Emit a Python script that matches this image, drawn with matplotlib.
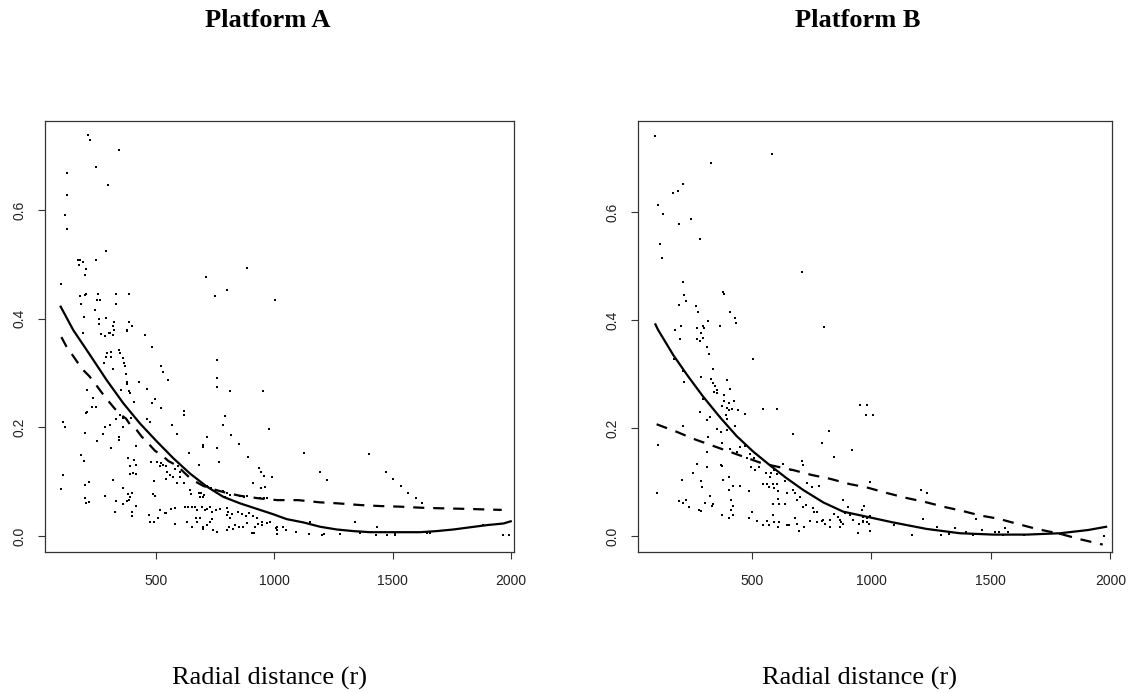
import numpy as np
import matplotlib
matplotlib.use("Agg")
import matplotlib.pyplot as plt

# Platform A: scatter points (r, value)
a_x = [214, 221, 345, 246, 125, 298, 125, 115, 125, 289, 169, 179, 193, 173, 246, 204, 200, 100, 711, 886,
       749, 801, 1001, 179, 200, 204, 256, 252, 262, 331, 387, 183, 331, 242, 197, 260, 289, 322, 260, 387,
       397, 320, 322, 376, 304, 193, 266, 286, 300, 317, 379, 455, 483, 308, 291, 288, 310, 342, 348, 359,
       365, 367, 280, 317, 373, 376, 379, 519, 531, 550, 759, 759, 759, 812, 953, 429, 460, 210, 387, 390,
       350, 235, 246, 231, 207, 204, 408, 481, 495, 519, 618, 618, 791, 348, 359, 331, 379, 393, 305, 284,
       359, 460, 474, 108, 115, 781, 567, 587, 978, 815, 198, 277, 345, 345, 252, 717, 700, 697, 849, 308,
       414, 756, 639, 184, 197, 890, 381, 390, 408, 414, 404, 390, 414, 477, 505, 519, 531, 542, 517, 680,
       764, 578, 594, 601, 545, 559, 936, 945, 956, 988, 493, 542, 570, 601, 618, 590, 105, 100, 317, 215,
       198, 362, 911, 942, 961, 643, 646, 680, 691, 685, 699, 702, 714, 721, 733, 781, 798, 791, 812, 855,
       871, 883, 939, 956, 967, 1012, 488, 495, 381, 398, 390, 286, 215, 204, 200, 331, 362, 379, 387, 415,
       517, 539, 564, 578, 621, 635, 650, 666, 674, 695, 705, 714, 728, 735, 753, 770, 798, 805, 819, 798,
       812, 848, 861, 880, 894, 911, 925, 946, 967, 981, 1009, 1009, 325, 398, 398, 471, 474, 491, 508, 542,
       580, 629, 650, 669, 674, 685, 697, 700, 714, 728, 735, 742, 756, 798, 809, 823, 832, 852, 869, 883,
       904, 913, 918, 932, 946, 1125, 1398, 1193, 1221, 1471, 1500, 1533, 1566, 1597, 1622, 1007, 1012, 1035,
       1049, 1010, 1091, 1150, 1148, 1200, 1209, 1277, 1342, 1362, 1435, 1429, 1477, 1509, 1509, 1643, 1657,
       1882, 1967, 1992]
a_y = [.737, .729, .711, .679, .667, .645, .627, .591, .565, .524, .507, .507, .505, .499, .507, .492, .480, .464, .476, .494,
       .442, .453, .435, .442, .444, .445, .446, .435, .435, .446, .446, .426, .426, .416, .403, .400, .402, .393, .390, .394,
       .387, .386, .379, .379, .373, .373, .372, .368, .374, .369, .378, .369, .348, .339, .336, .330, .329, .342, .336, .327,
       .318, .312, .318, .307, .298, .284, .280, .312, .302, .287, .323, .290, .275, .266, .267, .284, .270, .269, .267, .264,
       .269, .253, .238, .238, .229, .226, .247, .245, .252, .235, .230, .223, .220, .223, .217, .215, .213, .218, .204, .201,
       .201, .215, .210, .209, .201, .204, .204, .188, .197, .185, .190, .188, .183, .177, .175, .183, .167, .164, .169, .161,
       .166, .161, .153, .149, .138, .146, .143, .129, .139, .131, .115, .114, .114, .136, .137, .135, .131, .128, .128, .131,
       .136, .123, .128, .118, .118, .112, .125, .117, .110, .109, .101, .105, .108, .109, .097, .098, .112, .086, .103, .100,
       .094, .088, .097, .088, .091, .085, .077, .080, .079, .072, .071, .075, .092, .091, .088, .082, .079, .072, .075, .074,
       .072, .074, .069, .069, .069, .066, .077, .074, .077, .079, .071, .074, .063, .060, .069, .064, .059, .064, .067, .055,
       .048, .043, .050, .052, .053, .053, .053, .053, .048, .054, .048, .049, .054, .045, .048, .049, .051, .045, .040, .039,
       .033, .045, .040, .036, .043, .037, .033, .025, .023, .025, .017, .011, .044, .045, .036, .039, .025, .025, .034, .043,
       .022, .025, .017, .034, .025, .033, .012, .016, .020, .026, .031, .011, .008, .011, .016, .012, .020, .017, .017, .023,
       .006, .005, .017, .022, .020, .153, .151, .117, .103, .117, .105, .092, .080, .069, .060, .014, .011, .016,
       .011, .004, .008, .025, .004, .002, .003, .004, .025, .006, .016, .001, .001, .005, .001, .006, .006,
       .020, .001, .001]

# Platform A: fitted curves
a_solid_x = [97, 150, 221, 291, 362, 432, 503, 573, 643, 714, 784, 855, 925, 995, 1052, 1122, 1193, 1263,
             1333, 1404, 1474, 1545, 1615, 1685, 1756, 1826, 1897, 1967, 1998]
a_solid_y = [.422, .379, .333, .287, .244, .207, .174, .143, .115, .091, .072, .060, .050, .040, .031, .025, .017, .012,
             .009, .007, .007, .007, .007, .009, .012, .016, .020, .023, .027]
a_dash_x = [100, 122, 150, 169, 193, 218, 242, 260, 284, 305, 326, 348, 373, 390, 418, 439, 474, 495, 531, 552,
            590, 618, 650, 700, 750, 800, 855, 939, 1012, 1100, 1190, 1270, 1360, 1450, 1530, 1620, 1700, 1800, 1960]
a_dash_y = [.366, .348, .331, .319, .305, .294, .281, .270, .256, .245, .234, .224, .216, .205, .195, .183, .167, .157, .146, .138,
            .129, .117, .104, .092, .085, .079, .074, .069, .066, .066, .062, .060, .057, .055, .054, .052, .051, .050, .048]

# Platform B: scatter points
b_x = [96, 584, 330, 210, 168, 190, 105, 126, 195, 246, 282, 116, 122, 709, 210, 215, 377, 383, 195, 225,
       267, 273, 408, 429, 433, 315, 296, 299, 366, 204, 179, 268, 288, 803, 199, 268, 282, 294, 310, 319,
       503, 174, 210, 215, 335, 330, 335, 346, 352, 341, 355, 288, 394, 408, 383, 383, 402, 425, 294, 374,
       394, 405, 415, 443, 471, 547, 606, 282, 324, 313, 366, 391, 397, 430, 355, 369, 394, 210, 107, 824,
       673, 791, 917, 843, 952, 983, 977, 1005, 317, 310, 373, 408, 436, 450, 471, 492, 478, 508, 271, 252,
       313, 369, 374, 377, 402, 206, 285, 289, 422, 450, 402, 486, 497, 513, 531, 559, 575, 578, 592, 603,
       631, 662, 708, 715, 547, 561, 572, 586, 592, 603, 610, 638, 648, 673, 678, 687, 701, 729, 750, 782,
       609, 586, 614, 639, 754, 759, 771, 715, 726, 882, 903, 889, 843, 861, 868, 874, 868, 882, 826, 826,
       798, 804, 773, 791, 743, 718, 698, 678, 687, 645, 656, 614, 609, 586, 592, 572, 547, 561, 519, 499,
       489, 422, 413, 413, 419, 402, 374, 324, 335, 331, 303, 280, 285, 238, 224, 213, 196, 101, 946, 963,
       945, 966, 980, 988, 910, 921, 969, 994, 963, 994, 963, 983, 994, 1094, 1207, 1234, 1217, 1171, 1276, 1289,
       1326, 1349, 1395, 1426, 1437, 1461, 1515, 1532, 1561, 1573, 1549, 1638, 1789, 960, 1975]
b_y = [.741, .707, .691, .652, .635, .640, .613, .596, .578, .587, .551, .541, .516, .489, .470, .447, .453, .449, .428, .436,
       .426, .415, .415, .403, .394, .398, .390, .385, .390, .390, .382, .385, .376, .387, .365, .365, .362, .366, .350, .337,
       .327, .327, .305, .286, .309, .290, .283, .278, .271, .266, .264, .295, .289, .272, .261, .251, .247, .250, .253, .240,
       .238, .234, .236, .234, .226, .235, .235, .229, .220, .214, .220, .224, .216, .203, .199, .193, .196, .203, .169, .195,
       .189, .173, .159, .146, .242, .242, .224, .224, .183, .155, .172, .161, .155, .164, .167, .152, .144, .144, .133, .117,
       .127, .132, .129, .104, .109, .104, .101, .090, .093, .093, .085, .083, .127, .122, .128, .116, .110, .116, .122, .115,
       .133, .122, .138, .131, .096, .096, .091, .096, .088, .096, .084, .101, .080, .085, .079, .067, .073, .098, .091, .093,
       .068, .059, .059, .059, .051, .045, .045, .054, .057, .067, .054, .043, .040, .036, .030, .025, .017, .022, .030, .017,
       .030, .023, .025, .027, .027, .017, .009, .033, .023, .021, .021, .025, .017, .039, .025, .020, .020, .027, .028, .044,
       .033, .056, .067, .049, .039, .033, .039, .074, .059, .056, .061, .049, .046, .054, .067, .061, .064, .080, .023, .027,
       .006, .036, .033, .023, .039, .030, .056, .100, .036, .037, .025, .025, .010, .020, .085, .079, .031, .001, .016, .001,
       .004, .014, .008, .001, .031, .011, .008, .008, .014, .008, .001, .001, .004, .048, .000]

# Platform B: fitted curves
b_solid_x = [96, 107, 171, 234, 296, 366, 436, 506, 575, 645, 715, 799, 882, 966, 1091, 1231, 1370, 1510,
             1649, 1789, 1907, 1982]
b_solid_y = [.392, .382, .335, .295, .258, .220, .185, .156, .131, .107, .085, .062, .045, .037, .025, .013, .005, .0025,
             .0025, .005, .011, .017]
b_dash_x = [101, 185, 255, 324, 394, 464, 533, 589, 673, 750, 826, 910, 980, 1061, 1140, 1224, 1303, 1384,
            1454, 1531, 1614, 1691, 1789, 1872, 1968]
b_dash_y = [.207, .193, .180, .169, .158, .147, .136, .130, .122, .113, .106, .096, .090, .080, .071, .063, .054, .046,
            .038, .032, .022, .013, .004, -.006, -.016]

xticks = [500, 1000, 1500, 2000]
yticks = [0.0, 0.2, 0.4, 0.6]


def panel(ax, px, py, sx, sy, dx, dy, xlim, ylim):
    ax.plot(px, py, 's', ms=1.6, mew=0, color='black')
    ax.plot(sx, sy, '-', lw=1.6, color='black')
    ax.plot(dx, dy, linestyle=(0, (5, 4)), lw=1.6, color='black')
    ax.set_xlim(*xlim)
    ax.set_ylim(*ylim)
    ax.set_xticks(xticks)
    ax.set_xticklabels([str(t) for t in xticks])
    ax.set_yticks(yticks)
    ax.set_yticklabels([f"{t:.1f}" for t in yticks], rotation=90, va='center')
    ax.tick_params(direction='out', length=5, width=0.8, color='#333333',
                   labelsize=10, labelcolor='#222222')
    ax.tick_params(axis='x', pad=11)
    ax.tick_params(axis='y', pad=8)
    for sp in ax.spines.values():
        sp.set_linewidth(0.9)
        sp.set_color('#333333')
    for lab in ax.get_xticklabels() + ax.get_yticklabels():
        lab.set_family('Liberation Sans')


fig = plt.figure(figsize=(11.32, 6.93), dpi=100)

ax1 = fig.add_axes([0.0395, 0.2035, 0.4146, 0.6219])
panel(ax1, a_x, a_y, a_solid_x, a_solid_y, a_dash_x, a_dash_y, (29.6, 2012), (-0.0294, 0.7636))

ax2 = fig.add_axes([0.5636, 0.2035, 0.4190, 0.6219])
panel(ax2, b_x, b_y, b_solid_x, b_solid_y, b_dash_x, b_dash_y, (23, 2008), (-0.0297, 0.769))

serif = 'Liberation Serif'
fig.text(268 / 1132, 1 - 27 / 693, "Platform A", ha='center', va='baseline',
         fontsize=19, fontweight='bold', family=serif)
fig.text(858 / 1132, 1 - 27 / 693, "Platform B", ha='center', va='baseline',
         fontsize=19, fontweight='bold', family=serif)
fig.text(270 / 1132, 1 - 685 / 693, "Radial distance (r)", ha='center', va='baseline',
         fontsize=19, family=serif)
fig.text(860 / 1132, 1 - 685 / 693, "Radial distance (r)", ha='center', va='baseline',
         fontsize=19, family=serif)

fig.savefig("out.png", dpi=100)
